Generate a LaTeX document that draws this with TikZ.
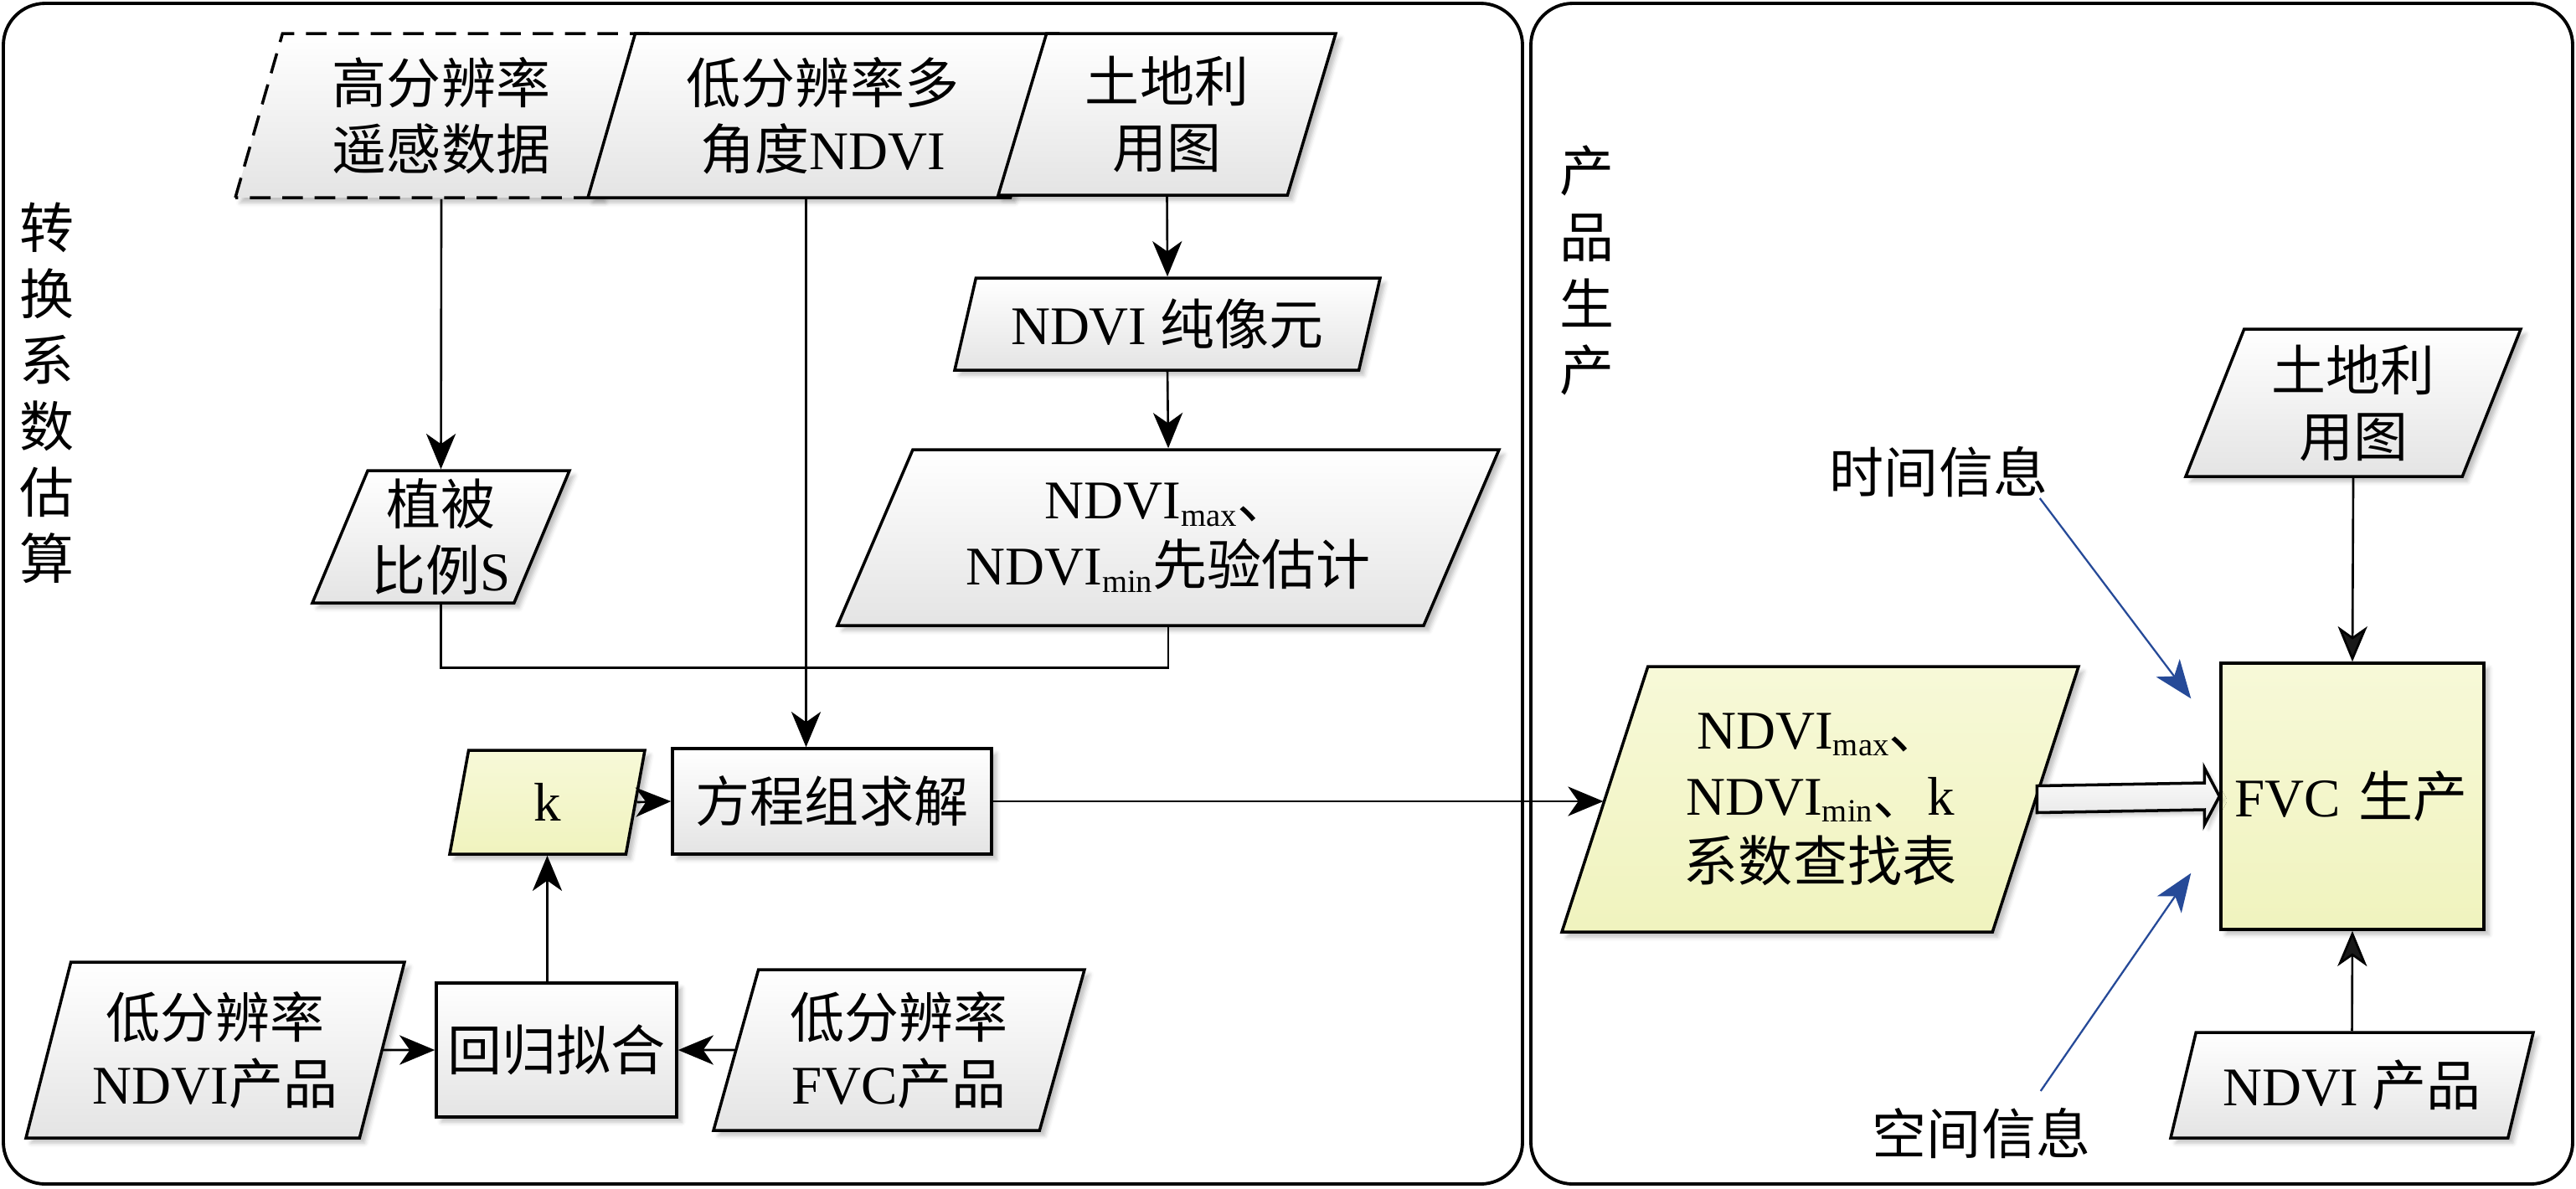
\documentclass[tikz,border=0pt]{standalone}
\usepackage{fontspec}
\setmainfont{Noto Sans CJK SC}
\newfontfamily\latinfont{Liberation Serif}
\newcommand{\en}[1]{{\latinfont #1}}
\newcommand{\lo}[1]{\raisebox{-2.5pt}{\fontsize{11pt}{11pt}\selectfont #1}}
\usepackage{xcolor}
\definecolor{box-top}{RGB}{255,255,255}
\definecolor{box-bottom}{RGB}{228,228,228}
\definecolor{lime-top}{RGB}{247,249,216}
\definecolor{lime-bottom}{RGB}{240,243,190}
\definecolor{blue-700}{RGB}{38,74,152}
\usepackage{tikz}
\usetikzlibrary{shapes.geometric,arrows.meta,shadows.blur}

\begin{document}
\begin{tikzpicture}[
    box/.style={
        draw=black,
        line width=1pt,
        top color=box-top,
        bottom color=box-bottom,
        blur shadow={shadow xshift=0.6mm, shadow yshift=-0.6mm, shadow blur radius=0.5mm, shadow opacity=25},
        font=\fontsize{18.5pt}{22.5pt}\selectfont,
        align=center,
        inner sep=0pt
    },
    para/.style={
        box,
        trapezium,
        trapezium left angle=#1,
        trapezium right angle=180-#1,
        trapezium stretches body
    },
    hot/.style={top color=lime-top, bottom color=lime-bottom},
    panel/.style={draw=black, line width=1.1pt, rounded corners=0.5cm},
    side label/.style={font=\fontsize{18.5pt}{22.5pt}\selectfont, align=center, inner sep=0pt},
    arrow/.style={-{Stealth[length=12pt, width=10pt, inset=3.5pt]}, line width=0.75pt},
    link/.style={line width=0.75pt},
    info arrow/.style={-{Stealth[length=13pt, width=10pt, inset=3.5pt]}, line width=0.65pt, blue-700},
    wide arrow/.style={
        draw=black,
        line width=1pt,
        top color=box-top,
        bottom color=box-bottom,
        blur shadow={shadow xshift=0.5mm, shadow yshift=-0.5mm, shadow blur radius=0.4mm, shadow opacity=20}
    }
]

\useasboundingbox (0,0) rectangle (30.76,-14.19);

% Two panels
\draw[panel] (0.04,-0.04) rectangle (18.18,-14.14);
\draw[panel] (18.28,-0.04) rectangle (30.72,-14.14);

\node[side label] (est) at (0.56,-4.69) {转\\换\\系\\数\\估\\算};
\node[side label] (prod) at (18.95,-3.23) {产\\品\\生\\产};

% Inputs - top row
\node[para=68, dash pattern=on 7pt off 4pt, minimum width=4.92cm, minimum height=1.96cm] (hires) at (5.27,-1.38) {高分辨率\\遥感数据};
\node[para=68, minimum width=5.61cm, minimum height=1.96cm] (multi) at (9.825,-1.38) {低分辨率多\\角度\en{NDVI}};
\node[para=67.5, minimum width=4.03cm, minimum height=1.93cm] (land) at (13.935,-1.365) {土地利\\用图};

% Pure pixels and prior estimate
\node[para=67, minimum width=5.08cm, minimum height=1.10cm] (pure) at (13.94,-3.87) {\en{NDVI }纯像元};
\node[para=55.4, minimum width=7.90cm, minimum height=2.10cm] (prior) at (13.95,-6.42) {\en{NDVI\lo{max}}、\\\en{NDVI\lo{min}}先验估计};

% Vegetation ratio
\node[para=64.6, inner xsep=-2pt, minimum width=3.07cm, minimum height=1.58cm] (ratio) at (5.265,-6.41) {植被\\比例\en{S}};

% Solving
\node[para=63.4, hot, minimum width=2.33cm, minimum height=1.24cm] (k) at (6.535,-9.58) {\en{k}};
\node[box, minimum width=3.81cm, minimum height=1.26cm] (solve) at (9.935,-9.57) {方程组求解};

% Regression - bottom row
\node[box, minimum width=2.87cm, minimum height=1.60cm] (fit) at (6.645,-12.54) {回归拟合};
\node[para=69, inner xsep=-1pt, minimum width=4.52cm, minimum height=2.10cm] (lowndvi) at (2.57,-12.54) {低分辨率\\\en{NDVI}产品};
\node[para=69, minimum width=4.43cm, minimum height=1.92cm] (lowfvc) at (10.735,-12.54) {低分辨率\\\en{FVC}产品};

% Product panel
\node[para=63.5, hot, inner xsep=-4pt, minimum width=6.17cm, minimum height=3.17cm] (lut) at (21.735,-9.545) {\en{NDVI\lo{max}}、\\\en{NDVI\lo{min}}、\en{k}\\系数查找表};
\node[box, hot, align=left, text width=2.82cm, inner xsep=0.16cm, minimum width=3.14cm, minimum height=3.18cm] (fvc) at (28.09,-9.51) {\en{FVC }生产};
\node[para=63.4, minimum width=4.00cm, minimum height=1.76cm] (landmap) at (28.10,-4.81) {土地利\\用图};
\node[para=63.4, inner xsep=-1pt, minimum width=4.33cm, minimum height=1.26cm] (ndvi) at (28.085,-12.96) {\en{NDVI }产品};

\node[side label] (time) at (23.15,-5.64) {时间信息};
\node[side label] (space) at (23.66,-13.54) {空间信息};

% Arrows - estimation
\draw[arrow] (hires.south) -- (ratio.north);
\draw[arrow] ([xshift=-0.2cm]multi.south) -- ([xshift=-0.2cm]multi.south |- solve.north);
\draw[arrow] (land.south) -- (pure.north);
\draw[arrow] (pure.south) -- (prior.north);
\draw[link] (ratio.south) -- ++(0,-0.76) -| (prior.south);
\draw[arrow] (k.east) -- (solve.west);
\draw[arrow] (k.south |- fit.north) -- (k.south);
\draw[arrow] (lowndvi.east) -- (fit.west);
\draw[arrow] (lowfvc.west) -- (fit.east);
\draw[arrow] (solve.east) -- (solve.east -| lut.west);

% Arrows - production
\draw[wide arrow] ([yshift=0.16cm]lut.east) -- ([xshift=-0.18cm, yshift=0.16cm]fvc.west)
    -- ([xshift=-0.18cm, yshift=0.34cm]fvc.west) -- (fvc.west)
    -- ([xshift=-0.18cm, yshift=-0.34cm]fvc.west) -- ([xshift=-0.18cm, yshift=-0.16cm]fvc.west)
    -- ([yshift=-0.16cm]lut.east) -- cycle;
\draw[arrow] (landmap.south) -- (fvc.north);
\draw[arrow] (ndvi.north) -- (fvc.south);
\draw[info arrow] ([xshift=-0.1cm]time.south east) -- ([xshift=-0.34cm, yshift=-0.44cm]fvc.north west);
\draw[info arrow] ([xshift=-0.6cm, yshift=0.2cm]space.north east) -- ([xshift=-0.34cm, yshift=0.69cm]fvc.south west);

\end{tikzpicture}
\end{document}
